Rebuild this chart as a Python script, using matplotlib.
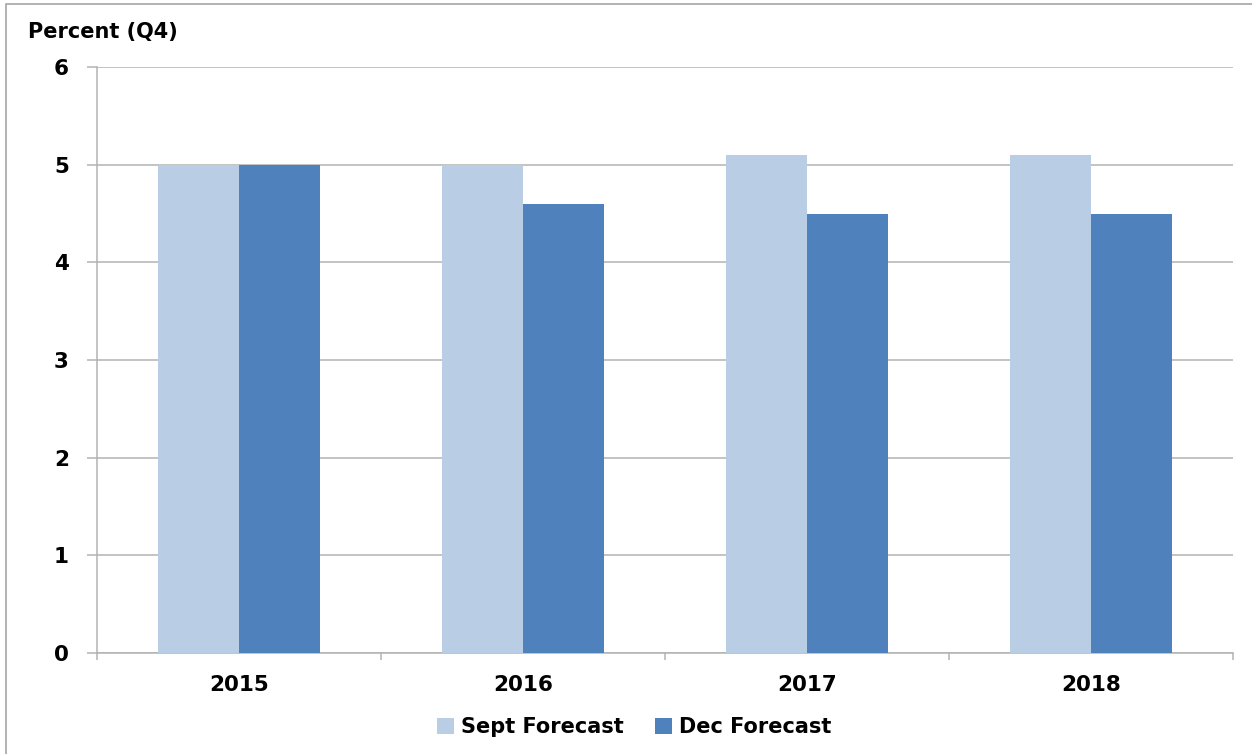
import numpy as np
import matplotlib.pyplot as plt
from matplotlib.patches import Rectangle

plt.rcParams['font.family'] = ['DejaVu Sans']
plt.rcParams['font.weight'] = 'bold'

years = ["2015", "2016", "2017", "2018"]
sept_forecast = [5.0, 5.0, 5.1, 5.1]
dec_forecast = [5.0, 4.6, 4.5, 4.5]
y_ticks = [0, 1, 2, 3, 4, 5, 6]

SEPT_COLOR = "#b9cde5"
DEC_COLOR = "#4f81bd"
GRID_COLOR = "#b3b3b3"

fig = plt.figure(figsize=(12.52, 7.54), dpi=100)
ax = fig.add_axes([0.0775, 0.134, 0.9073, 0.777])

# outer frame: only the left and top edges fall inside the canvas
fig.patches.append(Rectangle((6 / 1252, -0.2), 1.2, 0.2 + 750 / 754, transform=fig.transFigure,
                             fill=False, edgecolor="#a6a6a6", linewidth=1.2))

x = np.arange(len(years))
width = 0.285
ax.bar(x - width / 2, sept_forecast, width, color=SEPT_COLOR, label="Sept Forecast", zorder=3)
ax.bar(x + width / 2, dec_forecast, width, color=DEC_COLOR, label="Dec Forecast", zorder=3)

ax.set_xlim(-0.5, len(years) - 0.5)
ax.set_ylim(0, 6)
ax.set_yticks(y_ticks)
ax.set_yticklabels([str(t) for t in y_ticks], fontsize=15.5, fontweight="bold")
ax.yaxis.grid(True, color=GRID_COLOR, linewidth=1.1, zorder=0)
ax.tick_params(axis="y", length=7.2, color=GRID_COLOR, width=1.1, pad=13)

# year labels centred, tick marks at category boundaries
ax.set_xticks(x)
ax.set_xticklabels(years, fontsize=15.5, fontweight="bold")
ax.tick_params(axis="x", which="major", length=0, pad=16)
ax.set_xticks(np.arange(len(years) + 1) - 0.5, minor=True)
ax.tick_params(axis="x", which="minor", length=5, color=GRID_COLOR, width=1.1)

for side in ["top", "right"]:
    ax.spines[side].set_visible(False)
for side in ["left", "bottom"]:
    ax.spines[side].set_color(GRID_COLOR)
    ax.spines[side].set_linewidth(1.1)

fig.text(28 / 1252, 1 - 32 / 754, "Percent (Q4)", fontsize=15, fontweight="bold",
         ha="left", va="center")

ax.legend(loc="center", bbox_to_anchor=(0.473, -0.127), ncol=2, frameon=False,
          prop={"size": 15, "weight": "bold"}, handlelength=0.8, handleheight=0.8,
          handletextpad=0.35, columnspacing=1.5)

fig.savefig("out.png", dpi=100)
